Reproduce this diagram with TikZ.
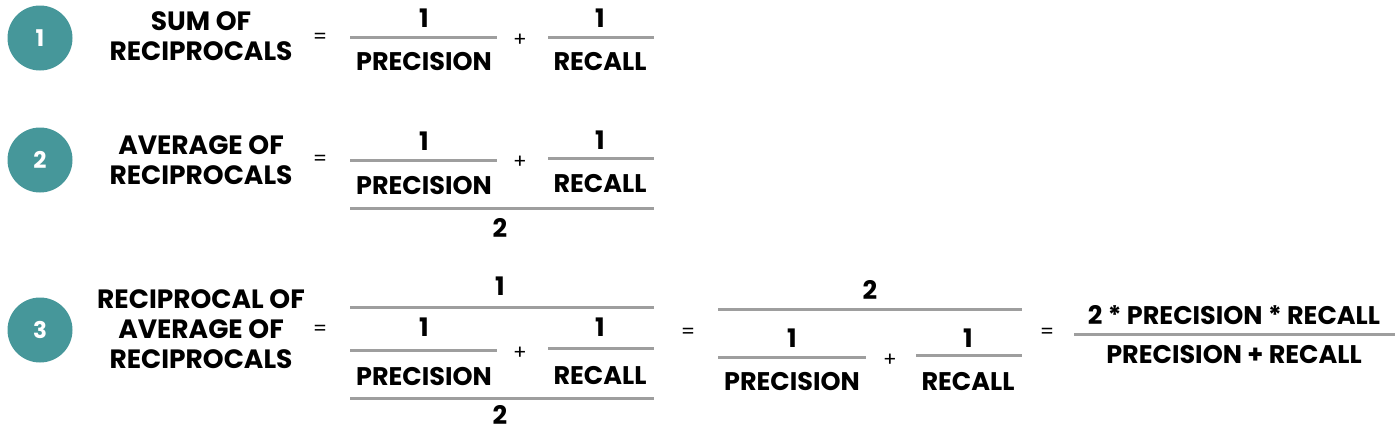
\documentclass[tikz,border=0pt]{standalone}
\usepackage{fontspec}
\setmainfont{Poppins}
\usetikzlibrary{positioning}
\definecolor{tealdot}{HTML}{46979A}
\definecolor{bargray}{HTML}{9E9E9E}

\begin{document}
\begin{tikzpicture}[x=1pt,y=-1pt]
	\tikzstyle{num}=[circle,fill=tealdot,minimum size=65pt,inner sep=0pt,text=white,font=\bfseries\fontsize{23}{23}\selectfont]
	\tikzstyle{lbl}=[align=center,font=\bfseries\fontsize{26.5}{30}\selectfont,inner sep=0pt]
	\tikzstyle{term}=[font=\bfseries\fontsize{25.5}{25.5}\selectfont,inner sep=0pt]
	\tikzstyle{op}=[font=\fontsize{20}{20}\selectfont,inner sep=0pt]
	\tikzstyle{bar}=[draw=bargray,line width=3pt]
	\useasboundingbox (0,0) rectangle (1400,431);
	% row one
	\node[num] (n1) at (40,38) {1};
	\node[lbl] (l1) at (201,36) {SUM OF\\RECIPROCALS};
	\node[op] (e1) at (320,38) {=};
	\node[term] (a1) at (424,18) {1};
	\draw[bar] (350,37) -- (497,37);
	\node[term] (p1) at (424,62) {PRECISION};
	\node[op] (s1) at (520,40) {+};
	\node[term] (b1) at (600,18) {1};
	\draw[bar] (548,37) -- (654,37);
	\node[term] (r1) at (600,62) {RECALL};
	% row two
	\node[num] (n2) at (40,160) {2};
	\node[lbl] (l2) at (201,160) {AVERAGE OF\\RECIPROCALS};
	\node[op] (e2) at (320,160) {=};
	\node[term] (a2) at (424,141) {1};
	\draw[bar] (350,160) -- (497,160);
	\node[term] (p2) at (424,186) {PRECISION};
	\node[op] (s2) at (520,162) {+};
	\node[term] (b2) at (600,140) {1};
	\draw[bar] (548,158) -- (654,158);
	\node[term] (r2) at (600,184) {RECALL};
	\draw[bar] (350,208) -- (654,208);
	\node[term] (d2) at (500,228) {2};
	% row three
	\node[num] (n3) at (40,330) {3};
	\node[lbl] (l3) at (201,329) {RECIPROCAL OF\\AVERAGE OF\\RECIPROCALS};
	\node[op] (e3) at (320,330) {=};
	\node[term] (t3) at (500,286) {1};
	\draw[bar] (350,307) -- (654,307);
	\node[term] (a3) at (424,327) {1};
	\draw[bar] (350,350) -- (497,350);
	\node[term] (p3) at (424,377) {PRECISION};
	\node[op] (s3) at (520,353) {+};
	\node[term] (b3) at (600,327) {1};
	\draw[bar] (548,348) -- (654,348);
	\node[term] (r3) at (600,376) {RECALL};
	\draw[bar] (350,398) -- (654,398);
	\node[term] (d3) at (500,415) {2};
	\node[op] (f3) at (688,333) {=};
	\node[term] (t4) at (870,290) {2};
	\draw[bar] (718,309) -- (1022,309);
	\node[term] (a4) at (792,338) {1};
	\draw[bar] (718,357) -- (866,357);
	\node[term] (p4) at (792,382) {PRECISION};
	\node[op] (s4) at (890,360) {+};
	\node[term] (b4) at (968,338) {1};
	\draw[bar] (916,355) -- (1022,355);
	\node[term] (r4) at (968,382) {RECALL};
	\node[op] (g3) at (1047,333) {=};
	\node[term] (h3) at (1234,315) {2 * PRECISION * RECALL};
	\draw[bar] (1074,334) -- (1395,334);
	\node[term] (k3) at (1234,355) {PRECISION + RECALL};
\end{tikzpicture}
\end{document}
